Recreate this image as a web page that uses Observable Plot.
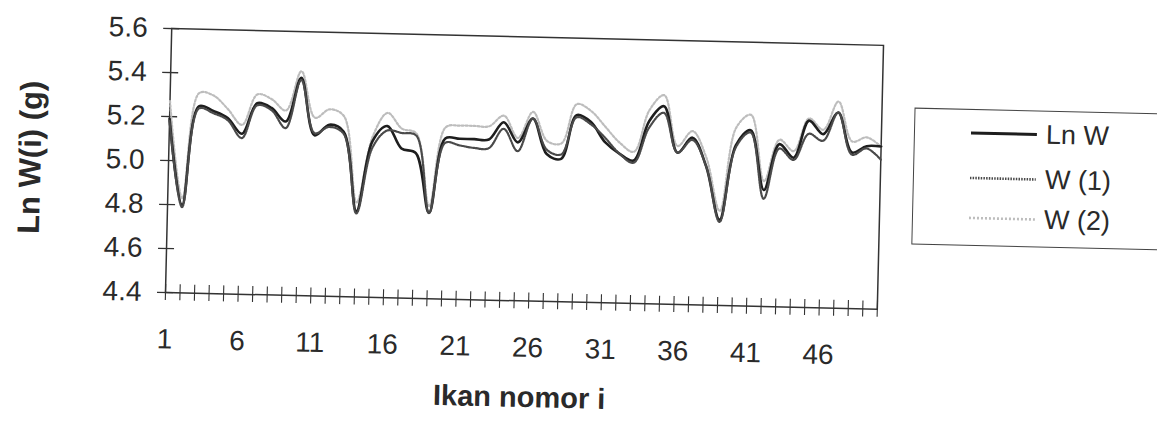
<!DOCTYPE html>
<html>
<head>
<meta charset="utf-8">
<script src="https://cdn.jsdelivr.net/npm/d3@7"></script>
<script src="https://cdn.jsdelivr.net/npm/@observablehq/plot@0.6"></script>
<style>
  html, body { margin: 0; padding: 0; background: #fff; overflow: hidden; }
  #wrap {
    position: relative; width: 1157px; height: 434px;
    transform: rotate(1.35deg); transform-origin: 165px 292px;
    font-family: "Liberation Sans", Arial, sans-serif; color: #2a2a2a;
  }
  #wrap svg { display: block; }
  #chart [aria-label="y-axis label"] text { font-weight: bold; font-size: 31px; }
  #chart [aria-label="x-axis label"] text { font-weight: bold; font-size: 29px; }
  #legend {
    position: absolute; left: 910px; top: 90px; width: 270px; height: 137px;
    border: 1.5px solid #444; box-sizing: border-box; background: #fff;
  }
  .item { position: absolute; left: 56px; height: 32px; display: flex; align-items: center; font-size: 27px; white-space: nowrap; }
  .item svg { margin-right: 9px; }
</style>
</head>
<body>
<div id="wrap">
  <div id="chart"></div>
  <div id="legend"></div>
</div>
<script>
// Fish index i (category axis)
const fish = d3.range(1, 51);
const xTickLabels = [1, 6, 11, 16, 21, 26, 31, 36, 41, 46];
const yTicks = [4.4, 4.6, 4.8, 5.0, 5.2, 5.4, 5.6];

const seriesNames = ["Ln W", "W (1)", "W (2)"];

// Ln W (observed)
const lnW = [
  5.19, 4.80, 5.25, 5.23, 5.20, 5.13, 5.27, 5.25, 5.19, 5.39,
  5.13, 5.18, 5.15, 4.79, 5.11, 5.18, 5.08, 5.06, 4.79, 5.13,
  5.13, 5.13, 5.13, 5.21, 5.12, 5.23, 5.07, 5.05, 5.25, 5.22,
  5.13, 5.08, 5.05, 5.23, 5.30, 5.09, 5.16, 5.03, 4.79, 5.13,
  5.20, 4.93, 5.14, 5.08, 5.25, 5.19, 5.29, 5.11, 5.14, 5.14
];
// W(1)
const w1 = [
  5.18, 4.79, 5.24, 5.22, 5.19, 5.11, 5.26, 5.24, 5.16, 5.38,
  5.14, 5.17, 5.14, 4.78, 5.08, 5.16, 5.15, 5.14, 4.79, 5.11,
  5.10, 5.09, 5.09, 5.18, 5.08, 5.23, 5.09, 5.07, 5.24, 5.21,
  5.15, 5.08, 5.04, 5.20, 5.27, 5.09, 5.15, 5.03, 4.78, 5.12,
  5.19, 4.89, 5.12, 5.07, 5.19, 5.16, 5.29, 5.10, 5.13, 5.08
];
// W(2)
const w2 = [
  5.27, 4.83, 5.31, 5.30, 5.24, 5.17, 5.31, 5.29, 5.24, 5.42,
  5.21, 5.25, 5.22, 4.83, 5.13, 5.24, 5.17, 5.15, 4.82, 5.18,
  5.19, 5.19, 5.19, 5.24, 5.14, 5.26, 5.13, 5.12, 5.30, 5.27,
  5.20, 5.13, 5.09, 5.28, 5.35, 5.12, 5.19, 5.07, 4.83, 5.21,
  5.27, 4.97, 5.16, 5.11, 5.26, 5.21, 5.34, 5.16, 5.18, 5.14
];

const rows = fish.map((n, i) => ({n, lnW: lnW[i], w1: w1[i], w2: w2[i]}));

const W = 1157, H = 434, mL = 165, mR = 280, mT = 28, mB = 142;
const plotW = W - mL - mR, plotH = H - mT - mB;

const styles = {
  "Ln W":  {stroke: "#1e1e1e", strokeWidth: 2.6, strokeDasharray: null},
  "W (1)": {stroke: "#4a4a4a", strokeWidth: 2.2, strokeDasharray: "1.5,1.2"},
  "W (2)": {stroke: "#bdbdbd", strokeWidth: 2.2, strokeDasharray: "2,2"}
};

const chart = Plot.plot({
  width: W, height: H,
  marginLeft: mL, marginRight: mR, marginTop: mT, marginBottom: mB,
  style: {fontFamily: "Liberation Sans, Arial, sans-serif", fontSize: "28px", color: "#2a2a2a", background: "transparent", overflow: "visible"},
  x: {type: "linear", domain: [1, 50]},
  y: {domain: [4.4, 5.6]},
  marks: [
    Plot.frame({stroke: "#333", strokeWidth: 1.5}),
    Plot.ruleY(yTicks, {insetLeft: -8, insetRight: plotW - 8, stroke: "#333", strokeWidth: 1.3}),
    Plot.ruleX(fish, {insetTop: plotH - 8, insetBottom: -8, stroke: "#333", strokeWidth: 1.1}),
    Plot.axisY({ticks: yTicks, tickSize: 0, tickPadding: 24, tickFormat: d3.format(".1f"), fontSize: 28,
      label: "Ln W(i) (g)", labelAnchor: "center", labelArrow: "none", labelOffset: 150}),
    Plot.axisX({ticks: xTickLabels, tickSize: 0, tickPadding: 36, tickFormat: d => String(d), fontSize: 28,
      label: "Ikan nomor i", labelAnchor: "center", labelArrow: "none", labelOffset: 106}),
    Plot.line(rows, {x: "n", y: "w2", curve: "catmull-rom", ...styles["W (2)"]}),
    Plot.line(rows, {x: "n", y: "lnW", curve: "catmull-rom", ...styles["Ln W"]}),
    Plot.line(rows, {x: "n", y: "w1", curve: "catmull-rom", ...styles["W (1)"]})
  ]
});
document.getElementById("chart").appendChild(chart);

// Legend
const legend = document.getElementById("legend");
const itemTops = [7, 52, 92];
seriesNames.forEach((name, k) => {
  const s = styles[name];
  const div = document.createElement("div");
  div.className = "item";
  div.style.top = itemTops[k] + "px";
  div.innerHTML = `<svg width="66" height="10"><line x1="0" x2="66" y1="5" y2="5" stroke="${s.stroke}" stroke-width="${s.strokeWidth + 0.4}" ${s.strokeDasharray ? `stroke-dasharray="${s.strokeDasharray}"` : ""}/></svg><span>${name}</span>`;
  legend.appendChild(div);
});
</script>
</body>
</html>
